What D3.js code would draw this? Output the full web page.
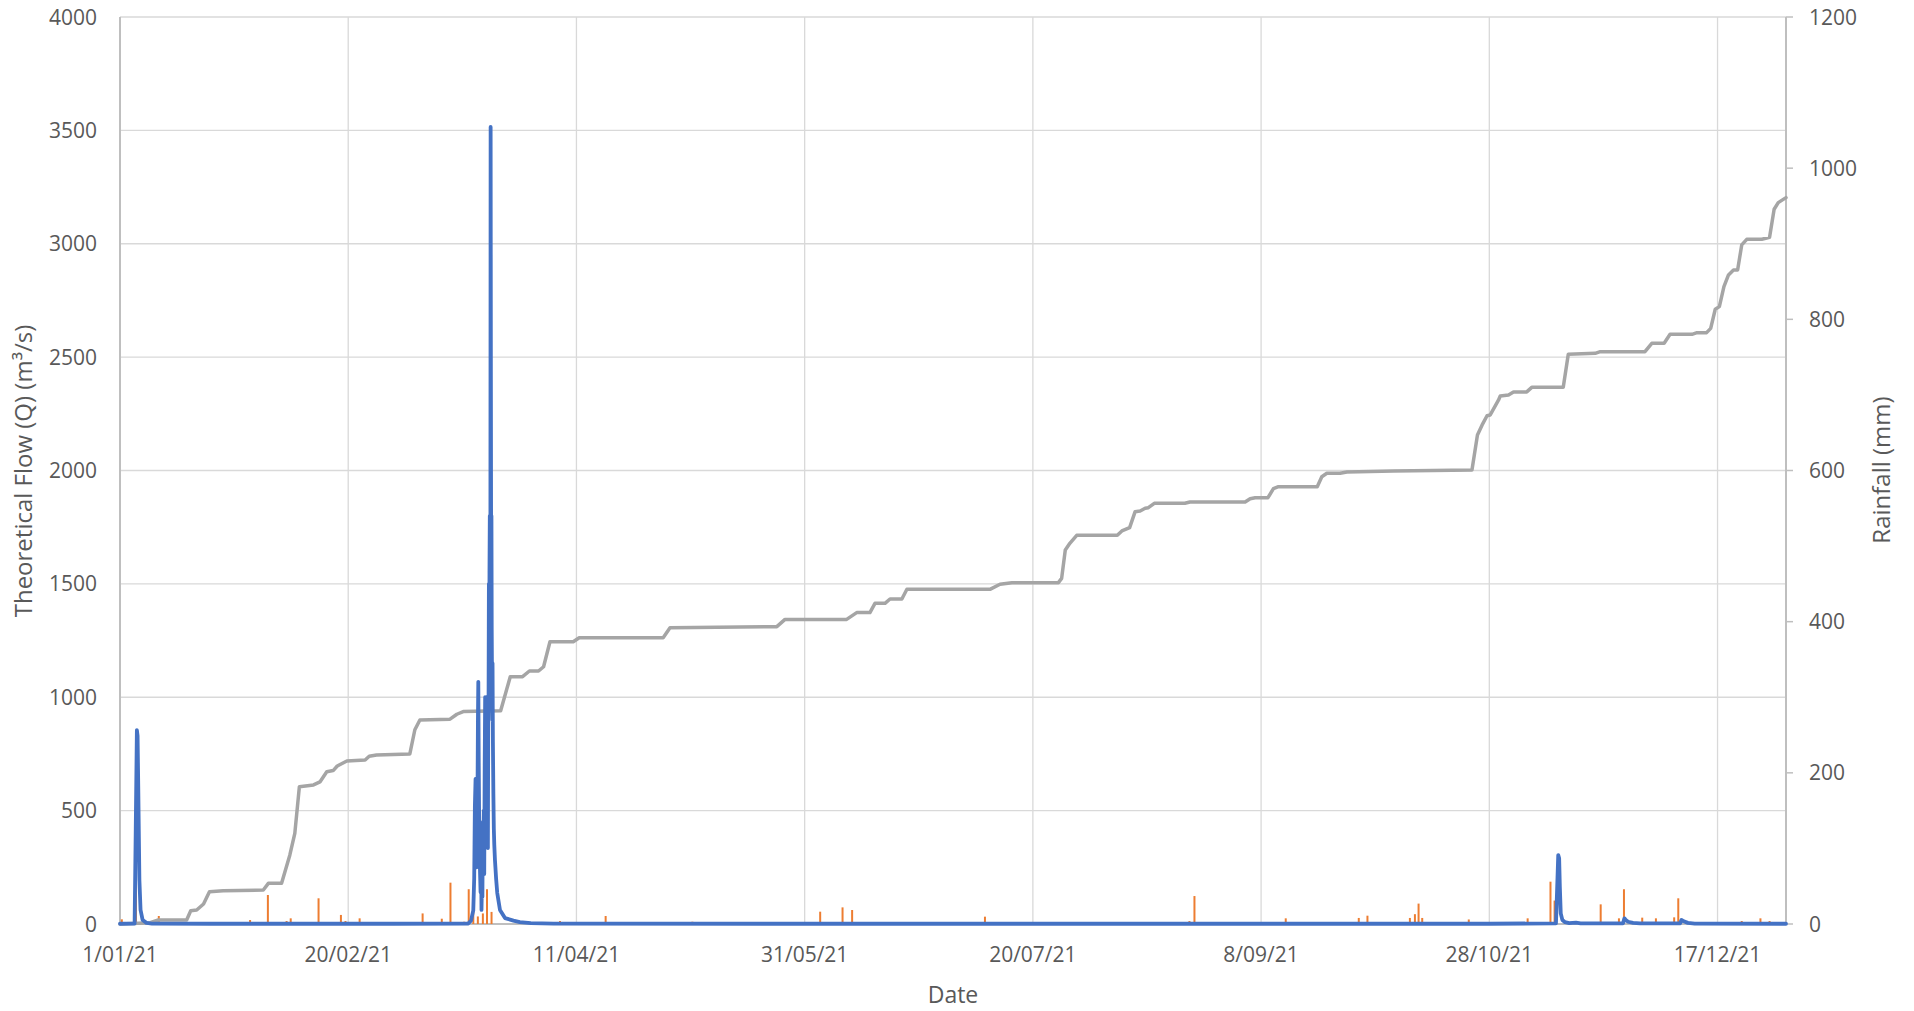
<!DOCTYPE html>
<html><head><meta charset="utf-8">
<script src="https://cdn.jsdelivr.net/npm/d3@7"></script>
<style>
body{margin:0;background:#fff;}
text{font-family:"Open Sans",sans-serif;fill:#595959;}
</style>
</head><body>
<svg id="c" width="1914" height="1011"></svg>
<script>
// ---------- data ----------
const xTickLabels = ["1/01/21","20/02/21","11/04/21","31/05/21","20/07/21","8/09/21","28/10/21","17/12/21"];
const leftTicks  = [0,500,1000,1500,2000,2500,3000,3500,4000];
const rightTicks = [0,200,400,600,800,1000,1200];

// Theoretical flow Q (m3/s) – day of year (0 = 1 Jan 2021 00:00)
const flowDay = [0,3.2,3.45,3.7,3.85,4.0,4.25,4.5,4.95,5.8,7,20,40,60,
  76.3,76.9,77.4,77.6,77.75,77.9,78.0,78.1,78.2,78.3,78.42,78.5,78.6,78.7,78.85,79.0,79.1,79.2,79.3,79.4,79.5,79.6,79.7,79.8,79.9,80.0,80.08,80.15,80.22,80.3,80.38,80.45,80.52,80.6,80.68,80.75,80.82,80.88,80.95,81.02,81.08,81.14,81.2,81.26,81.32,81.38,81.44,81.5,81.56,81.62,81.7,81.8,81.9,82.0,82.15,82.4,82.65,83.25,84.35,86.2,87.6,90,95,
  150,200,250,300,314.6,314.85,315.1,315.3,315.45,315.65,316,316.6,317.5,319,320,
  329.3,329.6,329.9,330.4,331.5,333,341.8,342.1,342.6,343.5,345,365];
const flowQ = [1,2,420,855,830,605,194,62,18,5,2,1,1,1,
  2,15,60,200,520,640,300,250,600,480,900,1068,700,420,250,140,300,62,180,120,450,300,500,220,700,1000,420,550,900,1000,450,400,760,335,900,1000,1500,1050,1550,1800,1150,1300,3515,2400,1550,1800,1300,1100,900,1150,800,577,420,350,282,200,137,62,26,15,8,4,2,
  1,1,1,1,3,150,304,290,164,47,18,8,4,6,3,
  3,25,18,10,5,3,3,18,12,5,2,1];

// Cumulative rainfall (mm)
const cumDay = [0,6.6,8.4,14.6,15.5,16.8,18.3,19.6,22.6,31.4,32.5,35.4,37.2,38.3,39.3,42.4,43.8,45.3,46.7,47.6,49.7,53.7,54.6,56.2,63.5,64.6,65.7,72.3,73.8,75.2,
  83.4,85.5,88.2,89.7,91.7,92.8,94.2,99.3,100.6,119,120.5,143.9,145.7,159.2,161.4,164.3,165.4,167.6,168.7,171.3,172.4,190.6,192.8,195.4,205.6,206.3,207.1,208.1,209.6,
  218.5,219.5,221.2,222.4,223.5,224.6,225.3,226.6,233.3,234.4,246.5,247.6,248.7,251.5,252.7,253.8,262.3,263.3,264.4,267.3,268.8,279,296.2,297.4,298.4,299.5,300.2,302,302.4,
  304.2,305.3,308.2,309.3,316.2,317.3,323.2,324.3,334.1,335.6,338.3,339.6,344.4,345.5,347.6,348.5,349.5,350.4,351.4,352.4,353.5,354.4,355.3,356.4,359.7,361.4,362.4,363.3,365];
const cumMm = [0,1.7,5.3,5.3,17.6,18.5,26.5,42.8,44,45,53.8,53.8,91,120,181.7,184,188,201.5,203,209,215.7,217,222,223.6,225,257,270,271,277.5,281,
  282.2,327.2,327.2,334.7,334.7,340.4,373.5,373.5,378.8,378.8,392,393.4,403,403,412,412,424.3,424.3,430,430,442.8,442.8,449.5,451.6,451.6,457.3,494.8,503.7,514.3,
  514.3,520,524.4,545.5,546.4,550,550.8,556.6,556.6,558.3,558.3,562.7,564,564,576,578.6,578.6,591.8,596.3,596.3,598,599.4,600.7,647,660,672.5,673.5,693,698.6,
  700,704,704,710,710,753.7,755,757.2,757.2,768.3,768.3,780.2,780.2,782.4,782.4,788,813.3,816.8,843.2,858.7,865.3,865.3,898.4,905.9,905.9,908.5,945.6,954.4,961];

// Rainfall per event (mm)
const rainDay = [0.4,1.5,3.5,8.5,27.5,28.5,32.4,36.5,37.4,43.5,46.5,48.4,49.4,52.5,66.3,70.5,72.4,75.4,76.4,77.4,78.4,79.5,80.4,81.4,
  96.4,106.4,125.4,153.4,158.3,160.4,181.3,189.5,234.3,235.4,247.4,255.4,271.4,273.3,282.6,283.7,284.5,285.3,295.5,
  308.4,310.4,313.4,314.3,324.4,325.4,328.4,329.5,333.5,336.5,337.4,340.5,341.4,350.4,355.3,359.4,360.4,361.4];
const rainMm = [6.2,2.2,80,10.6,2.2,5.3,38.4,4,7.5,34,2.2,12,4,7.5,14,7,54.7,3,46,47,10,14,46,16,
  4,10.6,3,16.3,22,18.5,2,9.7,4,37,2,7.5,8,11,8,13,27,8,6,
  7.5,2,56,31,26,2,7.5,46,8.4,7.5,2,8.8,34,1.5,4,7.5,2,4];

// ---------- chart ----------
const L = 120, R = 1786, T = 17, B = 924;
const t0 = Date.UTC(2021,0,1);
const toDate = d => new Date(t0 + d*864e5);
const parseTick = d3.utcParse("%d/%m/%y");
const tickDates = xTickLabels.map(parseTick);

const svg = d3.select("#c");
const x = d3.scaleUtc().domain([new Date(t0), new Date(Date.UTC(2022,0,1))]).range([L,R]);
const yL = d3.scaleLinear().domain([0,4000]).range([B,T]);
const yR = d3.scaleLinear().domain([0,1200]).range([B,T]);

// gridlines
const grid = svg.append("g");
grid.selectAll("line.h").data(leftTicks.filter(v=>v>0)).join("line")
  .attr("x1",L).attr("x2",R).attr("y1",d=>yL(d)).attr("y2",d=>yL(d))
  .attr("stroke","#d9d9d9").attr("stroke-width",1.3);
grid.selectAll("line.v").data(tickDates.slice(1)).join("line")
  .attr("x1",d=>x(d)).attr("x2",d=>x(d)).attr("y1",T).attr("y2",B)
  .attr("stroke","#d9d9d9").attr("stroke-width",1.3);

// axis lines
svg.append("line").attr("x1",L).attr("x2",L).attr("y1",T).attr("y2",B).attr("stroke","#bfbfbf").attr("stroke-width",2);
svg.append("line").attr("x1",R).attr("x2",R).attr("y1",T).attr("y2",B).attr("stroke","#bfbfbf").attr("stroke-width",2);
svg.append("line").attr("x1",L).attr("x2",R).attr("y1",B).attr("y2",B).attr("stroke","#bfbfbf").attr("stroke-width",2);

// left axis labels
svg.append("g").selectAll("text").data(leftTicks).join("text")
  .attr("x",97).attr("y",d=>yL(d)).attr("dy","0.36em").attr("text-anchor","end")
  .style("font-size","21px").text(d=>d);

// right axis ticks + labels
const rg = svg.append("g");
rg.selectAll("line").data(rightTicks).join("line")
  .attr("x1",R).attr("x2",R+7).attr("y1",d=>yR(d)).attr("y2",d=>yR(d))
  .attr("stroke","#bfbfbf").attr("stroke-width",1.5);
rg.selectAll("text").data(rightTicks).join("text")
  .attr("x",1809).attr("y",d=>yR(d)).attr("dy","0.36em").attr("text-anchor","start")
  .style("font-size","21px").text(d=>d);

// x axis labels
svg.append("g").selectAll("text").data(tickDates).join("text")
  .attr("x",d=>x(d)).attr("y",962).attr("text-anchor","middle")
  .style("font-size","21px").text((d,i)=>xTickLabels[i]);

// axis titles
svg.append("text").attr("transform","translate(32,471) rotate(-90)").attr("text-anchor","middle")
  .style("font-size","24px").text("Theoretical Flow (Q) (m³/s)");
svg.append("text").attr("transform","translate(1890,470) rotate(-90)").attr("text-anchor","middle")
  .style("font-size","24px").text("Rainfall (mm)");
svg.append("text").attr("x",(L+R)/2).attr("y",1003).attr("text-anchor","middle")
  .style("font-size","23px").text("Date");

// rainfall bars (orange)
svg.append("g").selectAll("line").data(rainDay).join("line")
  .attr("x1",(d)=>x(toDate(d))).attr("x2",(d)=>x(toDate(d)))
  .attr("y1",yR(0)).attr("y2",(d,i)=>yR(rainMm[i]))
  .attr("stroke","#ed7d31").attr("stroke-width",2);

// cumulative rainfall (gray)
const cumData = cumDay.map((d,i)=>[toDate(d),cumMm[i]]);
svg.append("path").datum(cumData)
  .attr("d",d3.line().x(d=>x(d[0])).y(d=>yR(d[1])))
  .attr("fill","none").attr("stroke","#a5a5a5").attr("stroke-width",3.5)
  .attr("stroke-linejoin","round").attr("stroke-linecap","round");

// flow (blue)
const flowData = flowDay.map((d,i)=>[toDate(d),flowQ[i]]);
svg.append("path").datum(flowData)
  .attr("d",d3.line().x(d=>x(d[0])).y(d=>yL(d[1])))
  .attr("fill","none").attr("stroke","#4472c4").attr("stroke-width",3.8)
  .attr("stroke-linejoin","round").attr("stroke-linecap","round");
</script>
</body></html>
